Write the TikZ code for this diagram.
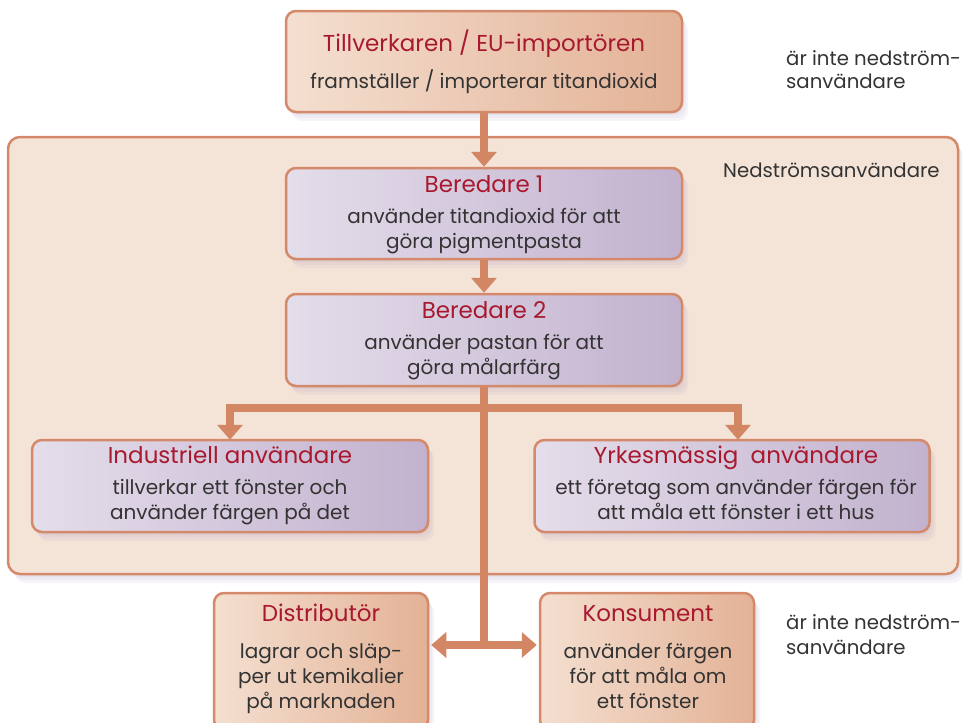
\documentclass[tikz,border=0pt]{standalone}
\usepackage{fontspec}
\setmainfont{Poppins}
\usetikzlibrary{arrows.meta,shadows}
\definecolor{edge}{HTML}{D4896A}
\definecolor{arr}{HTML}{D28664}
\definecolor{cont}{HTML}{F4E3D7}
\definecolor{peachL}{HTML}{F4DFD0}
\definecolor{peachR}{HTML}{E3B296}
\definecolor{lavL}{HTML}{E4DDEA}
\definecolor{lavR}{HTML}{C2B2CE}
\definecolor{ttl}{HTML}{A8192F}
\definecolor{txt}{HTML}{333333}
\definecolor{shc}{HTML}{A898C0}
\newcommand{\Ls}{\rule[-7pt]{0pt}{25pt}}
\newcommand{\Ss}{\rule[-5pt]{0pt}{20pt}}
\begin{document}
\begin{tikzpicture}[x=1pt,y=-1pt,
  softshadow/.style={
    general shadow={fill=shc, opacity=0.10, shadow xshift=2pt, shadow yshift=-3pt},
    general shadow={fill=shc, opacity=0.10, shadow xshift=4pt, shadow yshift=-6pt},
    general shadow={fill=shc, opacity=0.10, shadow xshift=6pt, shadow yshift=-9pt}},
  box/.style={draw=edge, line width=2.5pt, rounded corners=10pt, inner sep=0pt, softshadow},
  peach/.style={box, left color=peachL, right color=peachR},
  lav/.style={box, left color=lavL, right color=lavR},
  ttlstyle/.style={text=ttl, font=\fontsize{23}{26}\selectfont, inner sep=0pt, anchor=base},
  bodystyle/.style={text=txt, font=\fontsize{20}{25}\selectfont, align=center, inner sep=0pt, anchor=north},
  sidestyle/.style={text=txt, font=\fontsize{19.7}{23}\selectfont, align=left, inner sep=0pt, anchor=north west},
  conn/.style={draw=arr, line width=8pt},
  tip/.tip={Triangle[width=25pt,length=15pt]},
  arrstyle/.style={conn, -tip}
]
\useasboundingbox (0,0) rectangle (962,723);
% container
\node[box, fill=cont, rounded corners=12pt, minimum width=950pt, minimum height=437pt] (cont) at (483,355.5) {};
% boxes
\node[peach, minimum width=396pt, minimum height=101pt] (top) at (484,61.5) {};
\node[lav, minimum width=396pt, minimum height=91pt] (b1) at (484,213.5) {};
\node[lav, minimum width=396pt, minimum height=92pt] (b2) at (484,340) {};
\node[lav, minimum width=396pt, minimum height=92pt] (ind) at (230,486) {};
\node[lav, minimum width=395pt, minimum height=92pt] (yrk) at (732,486) {};
\node[peach, minimum width=214pt, minimum height=137pt] (dist) at (321,661.5) {};
\node[peach, minimum width=214pt, minimum height=137pt] (kons) at (647,661.5) {};
% texts (titles at baselines, bodies at first baseline - 18)
\node[ttlstyle] (t1) at (484,51) {Tillverkaren / EU-importören};
\node[bodystyle] (d1) at (484,69) {\Ls framställer / importerar titandioxid};
\node[ttlstyle] (t2) at (484,192) {Beredare 1};
\node[bodystyle] (d2) at (484,205) {\Ls använder titandioxid för att\\\Ls göra pigmentpasta};
\node[ttlstyle] (t3) at (484,318) {Beredare 2};
\node[bodystyle] (d3) at (484,331) {\Ls använder pastan för att\\\Ls göra målarfärg};
\node[ttlstyle] (t4) at (230,463.5) {Industriell användare};
\node[bodystyle] (d4) at (230,476.5) {\Ls tillverkar ett fönster och\\\Ls använder färgen på det};
\node[ttlstyle] (t5) at (736,463.5) {Yrkesmässig~ användare};
\node[bodystyle] (d5) at (736,476.5) {\Ls ett företag som använder färgen för\\\Ls att måla ett fönster i ett hus};
\node[ttlstyle] (t6) at (321,621) {Distributör};
\node[bodystyle] (d6) at (321,640) {\Ls lagrar och släp-\\\Ls per ut kemikalier\\\Ls på marknaden};
\node[ttlstyle] (t7) at (648,621) {Konsument};
\node[bodystyle] (d7) at (648,640) {\Ls använder färgen\\\Ls för att måla om\\\Ls ett fönster};
\node[sidestyle] (s1) at (786,50) {\Ss är inte nedström-\\\Ss sanvändare};
\node[sidestyle, font=\fontsize{19.7}{25}\selectfont] (s2) at (786,614) {\Ss är inte nedström-\\\Ss sanvändare};
\node[ttlstyle, text=txt, font=\fontsize{19.7}{23}\selectfont, anchor=base west] (s3) at (723,177) {Nedströmsanvändare};
% connectors
\coordinate (j) at (484,408);
\coordinate (k) at (484,645);
\draw[arrstyle] (top.south) -- (b1.north);
\draw[arrstyle] (b1.south) -- (b2.north);
\draw[conn] (b2.south) -- (k);
\draw[arrstyle] (j) -| ([yshift=-1pt]ind.north);
\draw[arrstyle] (j) -| ([xshift=6pt,yshift=-1pt]yrk.north);
\draw[conn, tip-tip] ([xshift=2pt]dist.east |- k) -- ([xshift=-2pt]kons.west |- k);
\end{tikzpicture}
\end{document}
